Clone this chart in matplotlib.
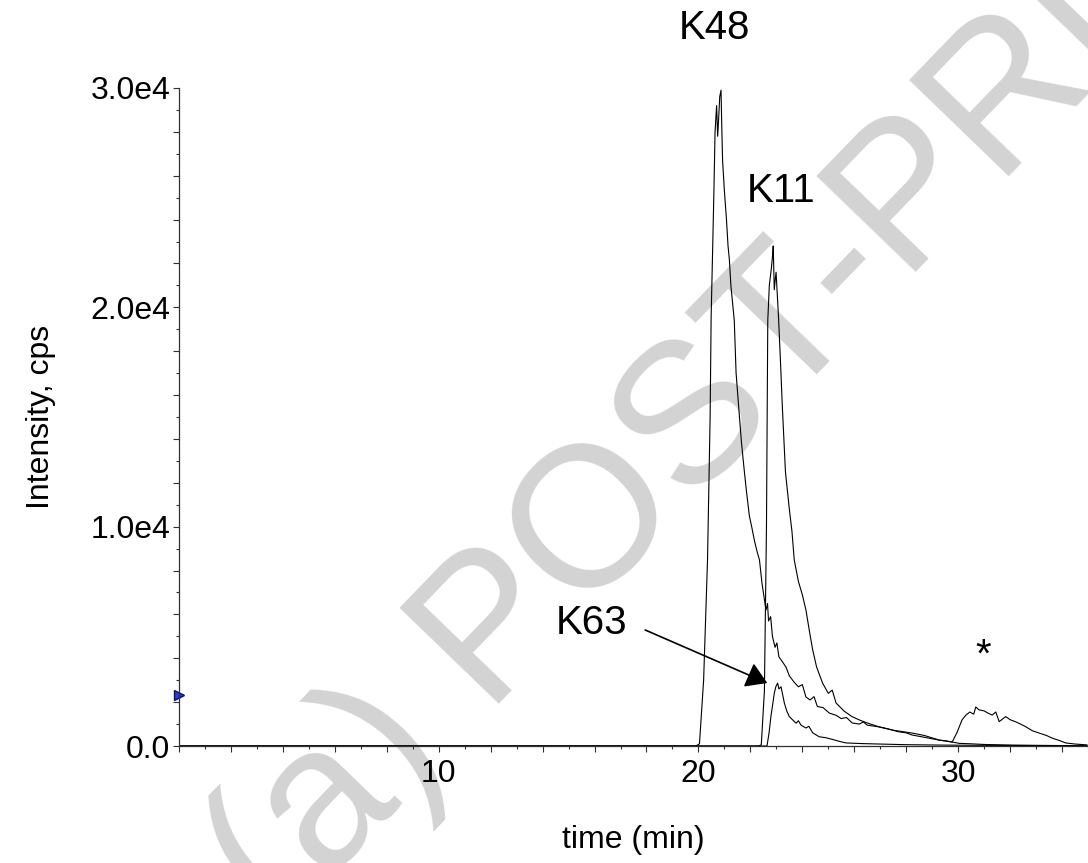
import matplotlib
matplotlib.use('Agg')
import matplotlib.pyplot as plt
from matplotlib.ticker import MultipleLocator, FuncFormatter

plt.rcParams['font.family'] = ['Liberation Sans', 'DejaVu Sans']

# K48 trace (time in min, intensity in cps)
k48_time = [0, 19.9, 20.04, 20.2, 20.35, 20.45, 20.49, 20.55, 20.6, 20.64, 20.7, 20.74,
            20.77, 20.82, 20.87, 20.9, 20.93, 21.0, 21.08, 21.14, 21.19, 21.25, 21.38,
            21.45, 21.58, 21.66, 21.77, 21.85, 21.96, 22.05, 22.15, 22.25, 22.35, 22.45,
            22.6, 22.66, 22.7, 22.78, 22.85, 22.95, 23.02, 23.1, 23.2, 23.37, 23.5, 23.69,
            23.85, 24.0, 24.14, 24.3, 24.45, 24.58, 24.8, 25.04, 25.3, 25.5, 25.7, 25.92,
            26.2, 26.35, 26.5, 26.96, 27.3, 27.7, 28.0, 28.23, 28.6, 29.27, 29.6, 30.04,
            30.5, 31.0, 32.08, 33.0, 34.0, 34.96]
k48_int = [0, 0, 100, 3000, 8480, 15000, 19600, 22800, 25500, 28000, 29200, 27800,
           28400, 29600, 29900, 28200, 26700, 25300, 24000, 22800, 22200, 21000, 19400,
           17000, 15000, 13800, 12500, 11600, 10500, 10000, 9400, 8900, 8480, 7400,
           6200, 6500, 5700, 5900, 5000, 4500, 4700, 4060, 3900, 3600, 3200, 2900,
           2700, 2800, 2230, 2100, 2250, 1800, 1750, 1500, 1400, 1250, 1300, 1050,
           1000, 1100, 950, 870, 780, 650, 600, 500, 420, 270, 220, 120,
           100, 70, 40, 30, 20, 10]

# K11 trace, also carries the late peak marked with *
k11_time = [0, 22.3, 22.42, 22.54, 22.62, 22.67, 22.73, 22.81, 22.85, 22.88, 22.92, 22.96,
            22.99, 23.04, 23.09, 23.16, 23.23, 23.35, 23.5, 23.6, 23.69, 23.85, 24.0, 24.14,
            24.25, 24.4, 24.55, 24.78, 25.0, 25.15, 25.3, 25.6, 25.9, 26.19, 26.5, 26.96, 27.5,
            28.23, 28.7, 29.27, 29.77, 29.95, 30.15, 30.3, 30.45, 30.6, 30.68, 30.8, 31.0, 31.15,
            31.31, 31.45, 31.58, 31.83, 32.0, 32.22, 32.4, 32.6, 32.85, 33.12, 33.4, 33.62, 33.9,
            34.14, 34.5, 34.96]
k11_int = [0, 0, 50, 2500, 10000, 19400, 21000, 21800, 22300, 22800, 20800, 21300,
           21600, 20500, 19400, 17500, 15500, 12500, 10800, 9800, 8480, 7500, 6900, 6200,
           5400, 4380, 3600, 2870, 2400, 2550, 1960, 1600, 1350, 1190, 1050, 870, 720,
           590, 480, 270, 180, 600, 1190, 1410, 1550, 1450, 1780, 1650, 1600, 1500,
           1410, 1550, 1110, 1340, 1200, 1100, 1000, 880, 700, 590, 480, 360, 250,
           140, 90, 50]

# K63 trace
k63_time = [0, 22.5, 22.64, 22.72, 22.79, 22.86, 22.92, 22.98, 23.05, 23.1, 23.18, 23.25,
            23.31, 23.4, 23.5, 23.62, 23.76, 23.85, 23.95, 24.14, 24.25, 24.4, 24.65, 24.9,
            25.16, 25.4, 25.68, 26.3, 26.96, 28.0, 29.5, 31.0, 33.0, 34.96]
k63_int = [0, 0, 0, 600, 1340, 1900, 2400, 2700, 2870, 2600, 2700, 2300,
           1950, 1600, 1340, 1200, 1040, 1150, 950, 820, 900, 600, 420, 380,
           300, 220, 140, 110, 90, 60, 40, 30, 20, 10]

fig = plt.figure(figsize=(10.88, 8.63), dpi=100)
ax = fig.add_axes([179/1088, 117/863, 909/1088, 658/863])
ax.set_facecolor('none')

# watermark behind the axes
fig.text(0.702, 0.588, '(a) POST-PRINT', fontsize=144, color='#d3d3d3',
         rotation=46, ha='center', va='center', zorder=-10)

for t, v in [(k48_time, k48_int), (k11_time, k11_int), (k63_time, k63_int)]:
    ax.plot(t, v, color='black', lw=0.8)

ax.set_xlim(0, 35)
ax.set_ylim(0, 30000)

for s in ['top', 'right']:
    ax.spines[s].set_visible(False)
for s in ['left', 'bottom']:
    ax.spines[s].set_color('#303030')
    ax.spines[s].set_linewidth(0.9)

ax.xaxis.set_major_locator(MultipleLocator(2))
ax.xaxis.set_minor_locator(MultipleLocator(1))
ax.yaxis.set_major_locator(MultipleLocator(2000))
ax.yaxis.set_minor_locator(MultipleLocator(1000))
ax.xaxis.set_major_formatter(FuncFormatter(lambda v, p: f'{v:.0f}' if v > 0 and v % 10 == 0 else ''))
ax.yaxis.set_major_formatter(FuncFormatter(
    lambda v, p: ('0.0' if v == 0 else f'{v/1e4:.1f}e4') if v % 10000 == 0 else ''))
ax.tick_params(which='major', length=4.3, width=0.8, color='#303030', labelsize=23)
ax.tick_params(which='minor', length=2.0, width=0.8, color='#303030')
ax.tick_params(axis='x', which='major', pad=5)
ax.tick_params(axis='y', which='major', pad=2)

ax.set_xlabel('time (min)', fontsize=23)
ax.set_ylabel('Intensity, cps', fontsize=23)
ax.xaxis.set_label_coords(0.5, -0.12)
ax.yaxis.set_label_coords(-0.135, 0.5)

# blue marker on the y axis
ax.plot(0, 2330, marker='>', ms=7, color='#2040e0', mec='#101060', clip_on=False)

# peak labels
ax.text(20.6, 32740, 'K48', fontsize=29, ha='center', va='center', clip_on=False)
ax.text(23.2, 25300, 'K11', fontsize=29, ha='center', va='center')
ax.text(15.9, 5600, 'K63', fontsize=29, ha='center', va='center')
ax.text(30.96, 4130, '*', fontsize=29, ha='center', va='center')
ax.annotate('', xy=(22.65, 2870), xytext=(17.95, 5290),
            arrowprops=dict(arrowstyle='-|>,head_length=0.4,head_width=0.25',
                            mutation_scale=32, color='black', lw=1.2,
                            shrinkA=0, shrinkB=0))

plt.savefig('out.png', dpi=100)
